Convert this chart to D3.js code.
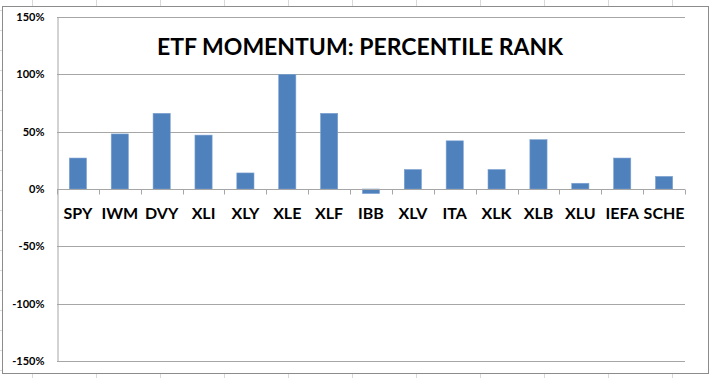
<!DOCTYPE html>
<html>
<head>
<meta charset="utf-8">
<script src="https://cdn.jsdelivr.net/npm/d3@7"></script>
<style>
  body { margin: 0; background: #fff; }
  text { font-family: Lato, "Open Sans", sans-serif; font-weight: bold; }
</style>
</head>
<body>
<div class="canvas"></div>
<script>
const tickers = ['SPY', 'IWM', 'DVY', 'XLI', 'XLY', 'XLE', 'XLF', 'IBB', 'XLV', 'ITA', 'XLK', 'XLB', 'XLU', 'IEFA', 'SCHE'];
const percentileRank = [27, 48, 66, 47, 14, 100, 66, -4, 17, 42, 17, 43, 5, 27, 11];
const yTicks = [-150, -100, -50, 0, 50, 100, 150];
const title = 'ETF MOMENTUM: PERCENTILE RANK';

const width = 710;
const height = 378;
const plot = { left: 57, right: 685, top: 17, bottom: 361 };

const svg = d3
  .select('.canvas')
  .append('svg')
  .attr('width', width)
  .attr('height', height);

// spreadsheet cell lines peeking out around the chart
const sheet = svg.append('g').attr('stroke', '#d9d9d9').attr('stroke-width', 1);
d3.range(32, width, 64).forEach(x => {
  sheet.append('line').attr('x1', x + 0.5).attr('x2', x + 0.5).attr('y1', 0).attr('y2', 6);
  sheet.append('line').attr('x1', x + 0.5).attr('x2', x + 0.5).attr('y1', 374).attr('y2', height);
});
d3.range(10, height, 20).forEach(y => {
  sheet.append('line').attr('x1', 0).attr('x2', 2).attr('y1', y + 0.5).attr('y2', y + 0.5);
});

// chart frame
svg
  .append('rect')
  .attr('x', 2.5)
  .attr('y', 6.5)
  .attr('width', 706)
  .attr('height', 367)
  .attr('fill', '#fff')
  .attr('stroke', '#8c8c8c')
  .attr('stroke-width', 1);

const x = d3.scaleBand().domain(tickers).range([plot.left, plot.right]).paddingInner(0.59).paddingOuter(0.295);
const y = d3.scaleLinear().domain([-150, 150]).range([plot.bottom, plot.top]);

// gridlines
svg
  .append('g')
  .selectAll('line')
  .data(yTicks)
  .join('line')
  .attr('x1', plot.left)
  .attr('x2', plot.right)
  .attr('y1', d => Math.round(y(d)) + 0.5)
  .attr('y2', d => Math.round(y(d)) + 0.5)
  .attr('stroke', '#a6a6a6')
  .attr('stroke-width', 1);

// y axis
const yAxis = svg
  .append('g')
  .attr('transform', `translate(${plot.left + 0.5},0)`)
  .call(
    d3
      .axisLeft(y)
      .tickValues(yTicks)
      .tickSize(0)
      .tickPadding(13)
      .tickFormat(d => d + '%')
  );
yAxis.select('.domain').attr('stroke', '#a6a6a6');
yAxis.selectAll('text').attr('font-size', 11).attr('fill', '#000').attr('font-family', 'Lato, sans-serif');

// bars
svg
  .append('g')
  .selectAll('rect')
  .data(percentileRank)
  .join('rect')
  .attr('x', (d, i) => x(tickers[i]))
  .attr('y', d => y(Math.max(0, d)))
  .attr('width', x.bandwidth())
  .attr('height', d => Math.abs(y(d) - y(0)))
  .attr('fill', '#4f81bd')
  .attr('stroke', '#7ea2d0')
  .attr('stroke-width', 0.6);

// category axis at zero
const step = x.step();
const xAxis = svg.append('g').attr('transform', `translate(0,${Math.round(y(0)) + 0.5})`);
xAxis
  .append('line')
  .attr('x1', plot.left)
  .attr('x2', plot.right)
  .attr('stroke', '#a6a6a6');
xAxis
  .selectAll('line.tick')
  .data(d3.range(tickers.length + 1))
  .join('line')
  .attr('class', 'tick')
  .attr('x1', i => Math.round(plot.left + i * step) + 0.5)
  .attr('x2', i => Math.round(plot.left + i * step) + 0.5)
  .attr('y1', 0)
  .attr('y2', 5)
  .attr('stroke', '#a6a6a6');
xAxis
  .selectAll('text')
  .data(tickers)
  .join('text')
  .attr('x', d => x(d) + x.bandwidth() / 2)
  .attr('y', 29)
  .attr('text-anchor', 'middle')
  .attr('font-size', 16)
  .attr('fill', '#000')
  .text(d => d);

// title
svg
  .append('text')
  .attr('x', 360)
  .attr('y', 55)
  .attr('text-anchor', 'middle')
  .attr('font-size', 23)
  .attr('fill', '#000')
  .text(title);
</script>
</body>
</html>
